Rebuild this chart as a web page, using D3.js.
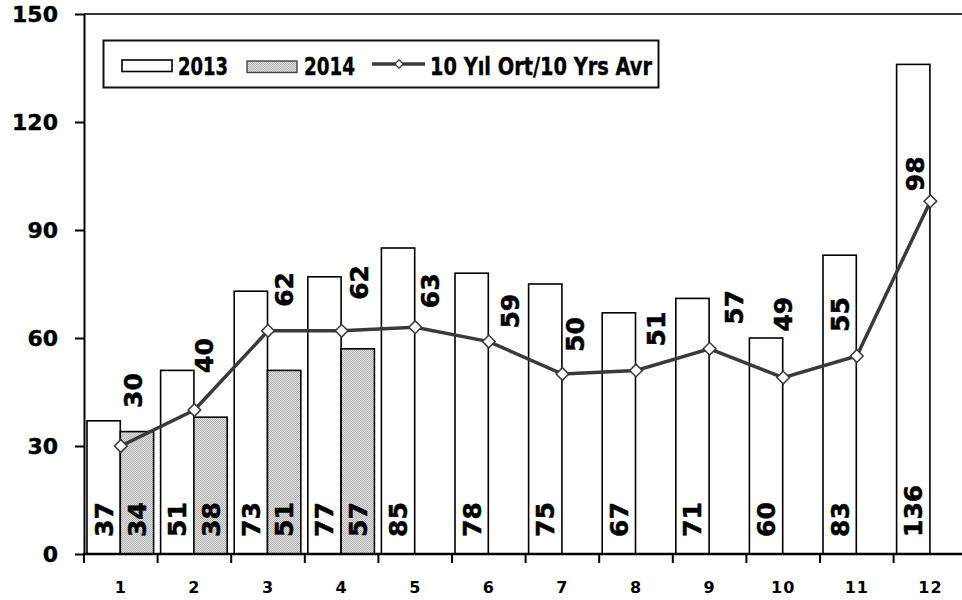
<!DOCTYPE html>
<html>
<head>
<meta charset="utf-8">
<script src="https://cdn.jsdelivr.net/npm/d3@7"></script>
<style>
  body { margin: 0; background: #fff; }
  svg { display: block; font-family: "DejaVu Sans", Verdana, sans-serif; font-weight: bold; }
</style>
</head>
<body>
<div id="chart"></div>
<script>
// chart values
var months = ["1", "2", "3", "4", "5", "6", "7", "8", "9", "10", "11", "12"];
var values2013 = [37, 51, 73, 77, 85, 78, 75, 67, 71, 60, 83, 136];
var values2014 = [34, 38, 51, 57];
var avg10 = [30, 40, 62, 62, 63, 59, 50, 51, 57, 49, 55, 98];
var yTicks = [0, 30, 60, 90, 120, 150];
var seriesNames = ["2013", "2014", "10 Yıl Ort/10 Yrs Avr"];

// the line labels were moved by hand in the original, so nudge them (px)
var avgLabelDx = [12, 10, 16, 17, 15, 21, 13, 20, 24, 0, -17, -15];
var avgLabelDy = [38, 37, 24, 31, 19, 13, 22, 24, 24, 46, 24, 10];

var width = 962, height = 600;
var svg = d3.select("#chart").append("svg")
    .attr("width", width)
    .attr("height", height);

var defs = svg.append("defs");
var pat = defs.append("pattern")
    .attr("id", "dots")
    .attr("width", 2).attr("height", 2)
    .attr("patternUnits", "userSpaceOnUse");
pat.append("rect").attr("width", 2).attr("height", 2).attr("fill", "#e2e2e2");
pat.append("rect").attr("width", 1).attr("height", 1).attr("fill", "#b2b2b2");
pat.append("rect").attr("x", 1).attr("y", 1).attr("width", 1).attr("height", 1).attr("fill", "#b2b2b2");

var x = d3.scaleBand().domain(months).range([84, 967.2]);
var x1 = d3.scaleBand().domain(["2013", "2014"]).range([3, x.bandwidth() - 4]);
var y = d3.scaleLinear().domain([0, 150]).range([554, 14]);

function mid(m) { return x(m) + x.bandwidth() / 2; }

// bars
var bars = [];
months.forEach(function (m, i) {
    bars.push({ month: m, series: "2013", value: values2013[i] });
    if (i < values2014.length) {
        bars.push({ month: m, series: "2014", value: values2014[i] });
    }
});

svg.append("g")
    .selectAll("rect")
    .data(bars)
    .enter()
    .append("rect")
    .attr("x", function (d) { return x(d.month) + x1(d.series); })
    .attr("y", function (d) { return y(d.value); })
    .attr("width", x1.bandwidth())
    .attr("height", function (d) { return y(0) - y(d.value); })
    .attr("fill", function (d) { return d.series == "2014" ? "url(#dots)" : "#fff"; })
    .attr("stroke", "#000")
    .attr("stroke-width", 1.6);

// top border of the plot area
svg.append("line")
    .attr("x1", 84).attr("x2", 967)
    .attr("y1", y(150)).attr("y2", y(150))
    .attr("stroke", "#333").attr("stroke-width", 2);

// y axis
var yAxis = svg.append("g")
    .attr("transform", "translate(84,0)")
    .call(d3.axisLeft(y).tickValues(yTicks).tickSize(9).tickSizeOuter(0).tickPadding(17));
yAxis.select(".domain").attr("stroke", "#000").attr("stroke-width", 2);
yAxis.selectAll(".tick line").attr("stroke", "#000").attr("stroke-width", 2);
yAxis.selectAll("text")
    .attr("font-size", 22)
    .attr("font-family", "DejaVu Sans")
    .attr("font-weight", "bold")
    .attr("fill", "#000")
    .attr("stroke", "#000")
    .attr("stroke-width", 0.4);

// x axis: labels in the middle, ticks between the months
var xAxis = svg.append("g")
    .attr("transform", "translate(0," + y(0) + ")")
    .call(d3.axisBottom(x).tickSize(0).tickPadding(28));
xAxis.select(".domain").remove();
xAxis.selectAll("text")
    .attr("font-size", 16)
    .attr("font-family", "DejaVu Sans")
    .attr("font-weight", "bold")
    .attr("letter-spacing", 1)
    .attr("fill", "#000");

var edges = months.map(function (m) { return x(m); });
svg.append("g")
    .selectAll("line")
    .data(edges)
    .enter()
    .append("line")
    .attr("x1", function (d) { return d; })
    .attr("x2", function (d) { return d; })
    .attr("y1", y(0))
    .attr("y2", y(0) + 9)
    .attr("stroke", "#000")
    .attr("stroke-width", 2);

svg.append("line")
    .attr("x1", 83).attr("x2", 967)
    .attr("y1", y(0)).attr("y2", y(0))
    .attr("stroke", "#000").attr("stroke-width", 2.5);

// 10 year average line
var line = d3.line()
    .x(function (d, i) { return mid(months[i]); })
    .y(function (d) { return y(d); });

svg.append("path")
    .datum(avg10)
    .attr("d", line)
    .attr("fill", "none")
    .attr("stroke", "#3a3a3a")
    .attr("stroke-width", 3.5);

var diamond = d3.symbol().type(d3.symbolSquare).size(80);
svg.append("g")
    .selectAll("path")
    .data(avg10)
    .enter()
    .append("path")
    .attr("d", diamond)
    .attr("transform", function (d, i) {
        return "translate(" + mid(months[i]) + "," + y(d) + ") rotate(45)";
    })
    .attr("fill", "#fff")
    .attr("stroke", "#3a3a3a")
    .attr("stroke-width", 1.5);

// bar value labels, vertical at the bottom of each bar
var labelBase = 537;
svg.append("g")
    .selectAll("text")
    .data(bars)
    .enter()
    .append("text")
    .attr("transform", function (d) {
        var cx = x(d.month) + x1(d.series) + x1.bandwidth() / 2;
        return "translate(" + cx + "," + labelBase + ") rotate(-90)";
    })
    .attr("dy", "0.36em")
    .attr("font-size", 25)
    .attr("fill", "#000")
    .attr("stroke", "#000")
    .attr("stroke-width", 0.5)
    .text(function (d) { return d.value; });

// line value labels
svg.append("g")
    .selectAll("text")
    .data(avg10)
    .enter()
    .append("text")
    .attr("transform", function (d, i) {
        var cx = mid(months[i]) + avgLabelDx[i];
        var cy = y(d) - avgLabelDy[i];
        return "translate(" + cx + "," + cy + ") rotate(-90)";
    })
    .attr("dy", "0.36em")
    .attr("font-size", 25)
    .attr("fill", "#000")
    .attr("stroke", "#000")
    .attr("stroke-width", 0.5)
    .text(function (d) { return d; });

// legend
var legend = svg.append("g");
legend.append("rect")
    .attr("x", 103.5).attr("y", 40.5)
    .attr("width", 555).attr("height", 47)
    .attr("fill", "#fff")
    .attr("stroke", "#111")
    .attr("stroke-width", 2);

legend.append("rect")
    .attr("x", 122).attr("y", 60)
    .attr("width", 50).attr("height", 11.5)
    .attr("fill", "#fff").attr("stroke", "#000").attr("stroke-width", 1.6);
legend.append("rect")
    .attr("x", 247).attr("y", 61)
    .attr("width", 50).attr("height", 11.5)
    .attr("fill", "url(#dots)").attr("stroke", "#444").attr("stroke-width", 1.4);
legend.append("line")
    .attr("x1", 372).attr("x2", 425)
    .attr("y1", 64).attr("y2", 64)
    .attr("stroke", "#3a3a3a").attr("stroke-width", 3.5);
legend.append("path")
    .attr("d", d3.symbol().type(d3.symbolSquare).size(34))
    .attr("transform", "translate(399,64) rotate(45)")
    .attr("fill", "#fff").attr("stroke", "#3a3a3a").attr("stroke-width", 1.3);

var legendText = [
    { name: seriesNames[0], x: 178, len: 50 },
    { name: seriesNames[1], x: 304, len: 51 },
    { name: seriesNames[2], x: 430, len: 222 }
];
legend.selectAll("text.lg")
    .data(legendText)
    .enter()
    .append("text")
    .attr("class", "lg")
    .attr("x", function (d) { return d.x; })
    .attr("y", 75)
    .attr("font-size", 24)
    .attr("textLength", function (d) { return d.len; })
    .attr("lengthAdjust", "spacingAndGlyphs")
    .attr("fill", "#000")
    .attr("stroke", "#000")
    .attr("stroke-width", 0.4)
    .text(function (d) { return d.name; });
</script>
</body>
</html>
